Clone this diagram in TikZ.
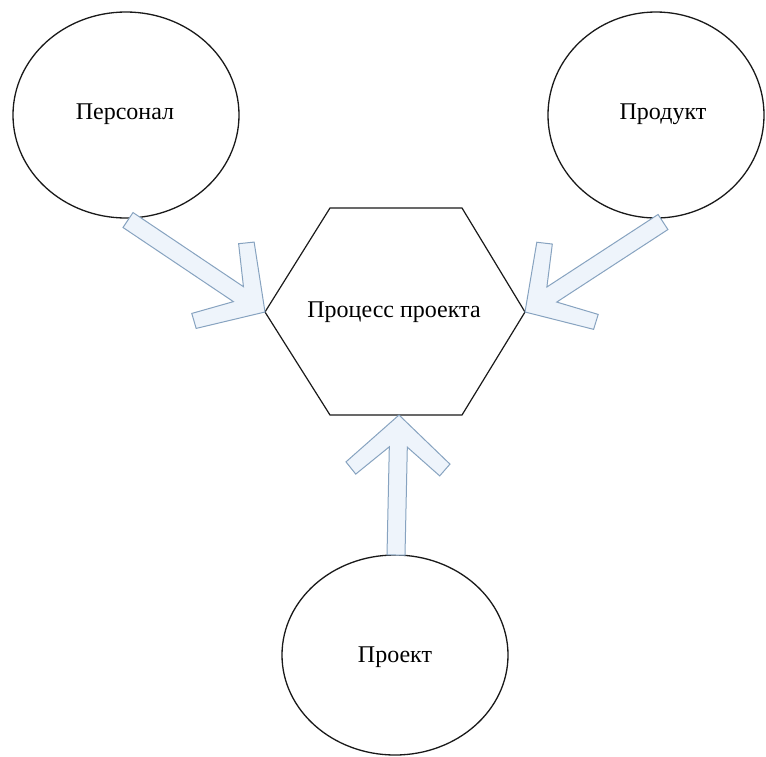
\documentclass[tikz,border=0pt]{standalone}
\usepackage{fontspec}
\setmainfont{Liberation Serif}
\usetikzlibrary{shapes.geometric}
\definecolor{arrfill}{RGB}{238,244,251}
\definecolor{arrline}{RGB}{135,163,192}
\tikzset{
  bubble/.style={ellipse, draw=black!90, line width=1.3pt, inner sep=0pt, font=\fontsize{24}{28}\selectfont},
  hexline/.style={draw=black!90, line width=1.2pt},
  label/.style={font=\fontsize{24}{28}\selectfont, inner sep=0pt},
  blockarrow/.style={draw=arrline, fill=arrfill, line width=1pt, line join=miter}
}
\newcommand\blockarr[2]{%
  \pgfmathanglebetweenpoints{\pgfpointanchor{#1}{center}}{\pgfpointanchor{#2}{center}}%
  \let\arang\pgfmathresult
  \pgfpointdiff{\pgfpointanchor{#1}{center}}{\pgfpointanchor{#2}{center}}%
  \pgfgetlastxy{\arx}{\ary}%
  \pgfmathsetmacro\arlen{veclen(\arx,\ary)}%
  \draw[blockarrow, shift={(#2)}, rotate=\arang]
    (0pt,0pt) -- (-48pt,52pt) -- (-60pt,42pt) -- (-32pt,9pt) -- (-\arlen pt,9pt)
    -- (-\arlen pt,-9pt) -- (-32pt,-9pt) -- (-60pt,-42pt) -- (-48pt,-52pt) -- cycle;
}
\begin{document}
\begin{tikzpicture}[x=1pt,y=-1pt]
\useasboundingbox (0,0) rectangle (766,756);
% circles
\node[bubble, minimum width=226pt, minimum height=206pt] (pers) at (126,115) {};
\node[label] (perst) at (125,114) {Персонал};
\node[bubble, minimum width=216pt, minimum height=206pt] (prod) at (656,115) {};
\node[label] (prodt) at (663,114) {Продукт};
\node[bubble, minimum width=226pt, minimum height=200pt] (proj) at (395,655) {};
\node[label] (projt) at (395,657) {Проект};
% hexagon
\coordinate (hl) at (265,312);
\coordinate (htl) at (330,208);
\coordinate (htr) at (462,208);
\coordinate (hr) at (525,312);
\coordinate (hbr) at (462,415);
\coordinate (hbl) at (330,415);
\coordinate (hb) at (399,415);
\draw[hexline] (hl) -- (htl) -- (htr) -- (hr) -- (hbr) -- (hbl) -- cycle;
\node[label] (proc) at (394,312) {Процесс проекта};
% arrow tails
\coordinate (tpers) at (128,220);
\coordinate (tprod) at (663,222);
\coordinate (tproj) at (396,555);
\blockarr{tpers}{hl}
\blockarr{tprod}{hr}
\blockarr{tproj}{hb}
\end{tikzpicture}
\end{document}
